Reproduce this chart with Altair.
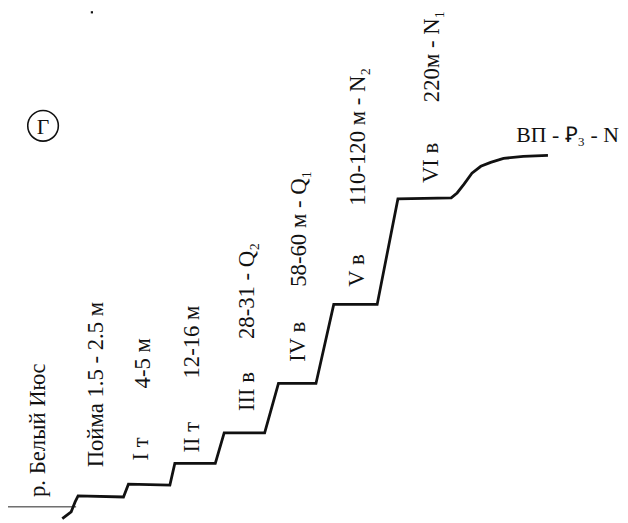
import altair as alt
import pandas as pd

# Terrace profile (distance, relative height)
prof_x = [63, 72, 76, 79, 125, 130, 172, 177, 218, 227, 268, 282, 320, 338, 382,
          403, 457, 463, 470, 478, 487, 497, 510, 530, 555]
prof_h = [-7, 0, 10, 16, 15, 28, 27, 49, 49, 80, 80, 130, 130, 210, 210,
          317, 318, 323, 332, 343, 350, 354, 358, 360, 361]

# River water level line
water_x = [8, 77]
water_h = [5, 5]

# Rotated labels
lab_text = ["р. Белый Июс", "Пойма 1.5 - 2.5 м", "I т", "4-5 м", "II т", "12-16 м",
            "III в", "28-31 - Q₂", "IV в", "58-60 м - Q₁", "V в", "110-120 м - N₂",
            "VI в", "220м - N₁"]
lab_x = [38, 97, 143, 145, 194, 195, 250, 250, 302, 303, 362, 363, 437, 438]
lab_h = [15, 45, 52, 125, 60, 135, 102, 175, 152, 228, 228, 310, 333, 415]

# Horizontal label of the watershed surface
top_text = ["ВП - Ꝑ₃ - N"]
top_x = [523]
top_h = [375]

# Panel marker
mark_text = ["Г"]
mark_x = [43.5]
mark_h = [391]

# small speck
dot_x = [93]
dot_h = [506]

X = alt.Scale(domain=[8, 620], nice=False, zero=False)
Y = alt.Scale(domain=[0, 507], nice=False, zero=False)
FONT = "Liberation Serif"

prof = pd.DataFrame({"x": prof_x, "h": prof_h, "o": list(range(len(prof_x)))})
water = pd.DataFrame({"x": water_x, "h": water_h})
labs = pd.DataFrame({"x": lab_x, "h": lab_h, "t": lab_text})
tops = pd.DataFrame({"x": top_x, "h": top_h, "t": top_text})
marks = pd.DataFrame({"x": mark_x, "h": mark_h, "t": mark_text})
dots = pd.DataFrame({"x": dot_x, "h": dot_h})

enc = dict(x=alt.X("x:Q", scale=X, axis=None), y=alt.Y("h:Q", scale=Y, axis=None))

profile = alt.Chart(prof).mark_line(color="#111111", strokeWidth=2.8, strokeJoin="miter").encode(
    order="o:Q", **enc)
wline = alt.Chart(water).mark_line(color="#222222", strokeWidth=1).encode(**enc)
labels = alt.Chart(labs).mark_text(angle=270, align="left", baseline="middle", font=FONT,
                                   fontSize=23, color="#111111").encode(text="t:N", **enc)
toplab = alt.Chart(tops).mark_text(align="left", baseline="alphabetic", font=FONT,
                                   fontSize=22, color="#111111").encode(text="t:N", **enc)
circ = alt.Chart(marks).mark_point(shape="circle", filled=False, size=961, color="#111111",
                                   strokeWidth=1.6, opacity=1).encode(**enc)
circtxt = alt.Chart(marks).mark_text(align="center", baseline="middle", font=FONT,
                                     fontSize=22, color="#111111", dy=1).encode(text="t:N", **enc)
speck = alt.Chart(dots).mark_point(shape="square", filled=True, size=5, color="#111111",
                                   opacity=1).encode(**enc)

chart = alt.layer(wline, profile, labels, toplab, circ, circtxt, speck).properties(
    width=612, height=507,
    autosize=alt.AutoSizeParams(type="none"),
    padding={"left": 0, "top": 0, "right": 8, "bottom": 8},
    background="white",
).configure_view(stroke=None)

chart.save("out.html", embed_options={"renderer": "svg", "actions": False})
